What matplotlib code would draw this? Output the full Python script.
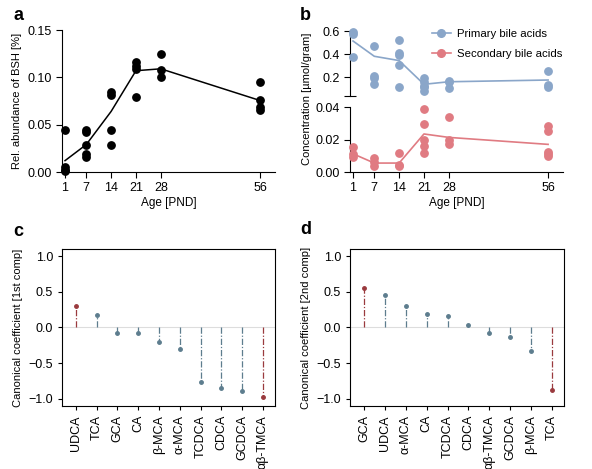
import numpy as np
import matplotlib
matplotlib.use("Agg")
import matplotlib.pyplot as plt

plt.rcParams['font.family'] = ['Liberation Sans', 'DejaVu Sans']
plt.rcParams['font.size'] = 8

# --- panel a: BSH abundance ---
bsh_age = [1, 1, 1, 1, 7, 7, 7, 7, 7, 14, 14, 14, 14, 21, 21, 21, 21, 28, 28, 28, 56, 56, 56, 56]
bsh_val = [0.0446, 0.005, 0.002, 0.001, 0.044, 0.042, 0.028, 0.019, 0.0155,
           0.084, 0.081, 0.044, 0.028, 0.116, 0.112, 0.109, 0.079,
           0.125, 0.108, 0.100, 0.095, 0.076, 0.0685, 0.066]
ages = [1, 7, 14, 21, 28, 56]
bsh_line = [0.012, 0.029, 0.064, 0.107, 0.109, 0.0755]

# --- panel b: bile acid concentrations ---
prim_age = [1, 1, 1, 7, 7, 7, 7, 14, 14, 14, 14, 14, 21, 21, 21, 21, 21, 28, 28, 28, 56, 56, 56]
prim_val = [0.59, 0.572, 0.375, 0.473, 0.214, 0.192, 0.141, 0.521, 0.411, 0.394, 0.304, 0.116,
            0.192, 0.158, 0.130, 0.116, 0.087, 0.172, 0.158, 0.107, 0.254, 0.135, 0.116]
prim_line = [0.515, 0.383, 0.346, 0.141, 0.163, 0.178]
sec_age = [1, 1, 1, 7, 7, 7, 14, 14, 14, 21, 21, 21, 21, 21, 28, 28, 28, 56, 56, 56, 56, 56]
sec_val = [0.0156, 0.0112, 0.0095, 0.0085, 0.0059, 0.004, 0.012, 0.0045, 0.0037,
           0.0386, 0.0298, 0.020, 0.0162, 0.012, 0.034, 0.0197, 0.017,
           0.0284, 0.0254, 0.0126, 0.0112, 0.0101]
sec_line = [0.0112, 0.0055, 0.0055, 0.0234, 0.0213, 0.017]

# --- panels c, d: canonical coefficients ---
c_names = ['UDCA', 'TCA', 'GCA', 'CA', 'β-MCA', 'α-MCA', 'TCDCA', 'CDCA', 'GCDCA', 'αβ-TMCA']
c_vals = [0.30, 0.18, -0.08, -0.08, -0.21, -0.30, -0.77, -0.85, -0.89, -0.97]
d_names = ['GCA', 'UDCA', 'α-MCA', 'CA', 'TCDCA', 'CDCA', 'αβ-TMCA', 'GCDCA', 'β-MCA', 'TCA']
d_vals = [0.56, 0.46, 0.30, 0.19, 0.16, 0.04, -0.08, -0.13, -0.33, -0.88]

blue = '#8aa6c9'
red = '#e07b82'
stem_red = '#9a3a3e'
stem_blue = '#5d7d8e'

W, H = 592, 469
fig = plt.figure(figsize=(W / 100, H / 100), dpi=100)

def px(l, r, t, b):
    return [l / W, 1 - b / H, (r - l) / W, (b - t) / H]

def style_open(ax):
    ax.spines['top'].set_visible(False)
    ax.spines['right'].set_visible(False)
    ax.tick_params(direction='out', length=4, width=0.8, labelsize=9)

# panel a
ax_a = fig.add_axes(px(62, 275, 30, 172))
ax_a.plot(ages, bsh_line, color='black', lw=1.1, zorder=2)
ax_a.scatter(bsh_age, bsh_val, s=28, color='black', zorder=3, clip_on=False)
ax_a.set_xlim(0.15, 60.2)
ax_a.set_ylim(0, 0.15)
ax_a.set_xticks(ages)
ax_a.set_yticks([0, 0.05, 0.10, 0.15])
ax_a.set_yticklabels(['0.00', '0.05', '0.10', '0.15'])
style_open(ax_a)
ax_a.set_xlabel('Age [PND]', fontsize=8.5, labelpad=2)
ax_a.set_ylabel('Rel. abundance of BSH [%]', fontsize=8, labelpad=4)

# panel b (broken axis)
ax_bt = fig.add_axes(px(350, 563, 30, 96))
ax_bb = fig.add_axes(px(350, 563, 107, 172))
ax_bt.plot(ages, prim_line, color=blue, lw=1.2, zorder=2)
ax_bt.scatter(prim_age, prim_val, s=28, color=blue, zorder=3, clip_on=False)
ax_bb.plot(ages, sec_line, color=red, lw=1.2, zorder=2)
ax_bb.scatter(sec_age, sec_val, s=28, color=red, zorder=3, clip_on=False)
for ax in (ax_bt, ax_bb):
    ax.set_xlim(0.15, 60.2)
    style_open(ax)
ax_bt.set_ylim(0.04, 0.61)
ax_bt.set_yticks([0.2, 0.4, 0.6])
ax_bt.set_yticklabels(['0.2', '0.4', '0.6'])
ax_bt.spines['bottom'].set_visible(False)
ax_bt.tick_params(axis='x', bottom=False, labelbottom=False)
ax_bt.plot([0], [0], marker='_', color='black', ms=8, mew=0.8, clip_on=False,
           transform=ax_bt.transAxes)
ax_bb.set_ylim(0, 0.04)
ax_bb.set_yticks([0, 0.02, 0.04])
ax_bb.set_yticklabels(['0.00', '0.02', '0.04'])
ax_bb.set_xticks(ages)
ax_bb.set_xlabel('Age [PND]', fontsize=8.5, labelpad=2)
fig.text(307 / W, 1 - 99 / H, 'Concentration [µmol/gram]', rotation=90,
         ha='center', va='center', fontsize=8)
ax_bt.plot([], [], color=blue, marker='o', ms=5.5, lw=1.2, label='Primary bile acids')
ax_bt.plot([], [], color=red, marker='o', ms=5.5, lw=1.2, label='Secondary bile acids')
ax_bt.legend(loc='upper left', bbox_to_anchor=(77 / 213, 1.09), frameon=False, fontsize=8.2,
             handlelength=1.7, labelspacing=0.95, handletextpad=0.5, borderaxespad=0)

# panels c and d
def stem_panel(rect, names, vals, reds, ylabel):
    ax = fig.add_axes(rect)
    x = np.arange(len(names))
    ax.axhline(0, color='#dddddd', lw=0.8, zorder=1)
    for i, v in enumerate(vals):
        col = stem_red if names[i] in reds else stem_blue
        ax.plot([x[i], x[i]], [0, v], color=col, lw=0.9, ls=(0, (5, 1.5, 1, 1.5)), zorder=2)
        ax.plot(x[i], v, marker='o', ms=2.5, color=col, zorder=3)
    ax.set_xlim(-0.67, 9.58)
    ax.set_ylim(-1.1, 1.1)
    ax.set_yticks([-1.0, -0.5, 0.0, 0.5, 1.0])
    ax.set_yticklabels(['−1.0', '−0.5', '0.0', '0.5', '1.0'])
    ax.set_xticks(x)
    ax.set_xticklabels(names, rotation=90)
    ax.tick_params(direction='out', length=3, width=0.8, labelsize=9)
    ax.set_ylabel(ylabel, fontsize=8, labelpad=4)
    return ax

stem_panel(px(62, 275, 249, 406), c_names, c_vals, ['UDCA', 'αβ-TMCA'],
           'Canonical coefficient [1st comp]')
stem_panel(px(350, 564, 249, 406), d_names, d_vals, ['GCA', 'TCA'],
           'Canonical coefficient [2nd comp]')

# panel letters
for lab, xx, yy in [('a', 13, 15), ('b', 300, 15), ('c', 13, 231), ('d', 300, 230)]:
    fig.text(xx / W, 1 - yy / H, lab, fontsize=13, fontweight='bold', ha='left', va='center')

fig.savefig('out.png', dpi=100)
